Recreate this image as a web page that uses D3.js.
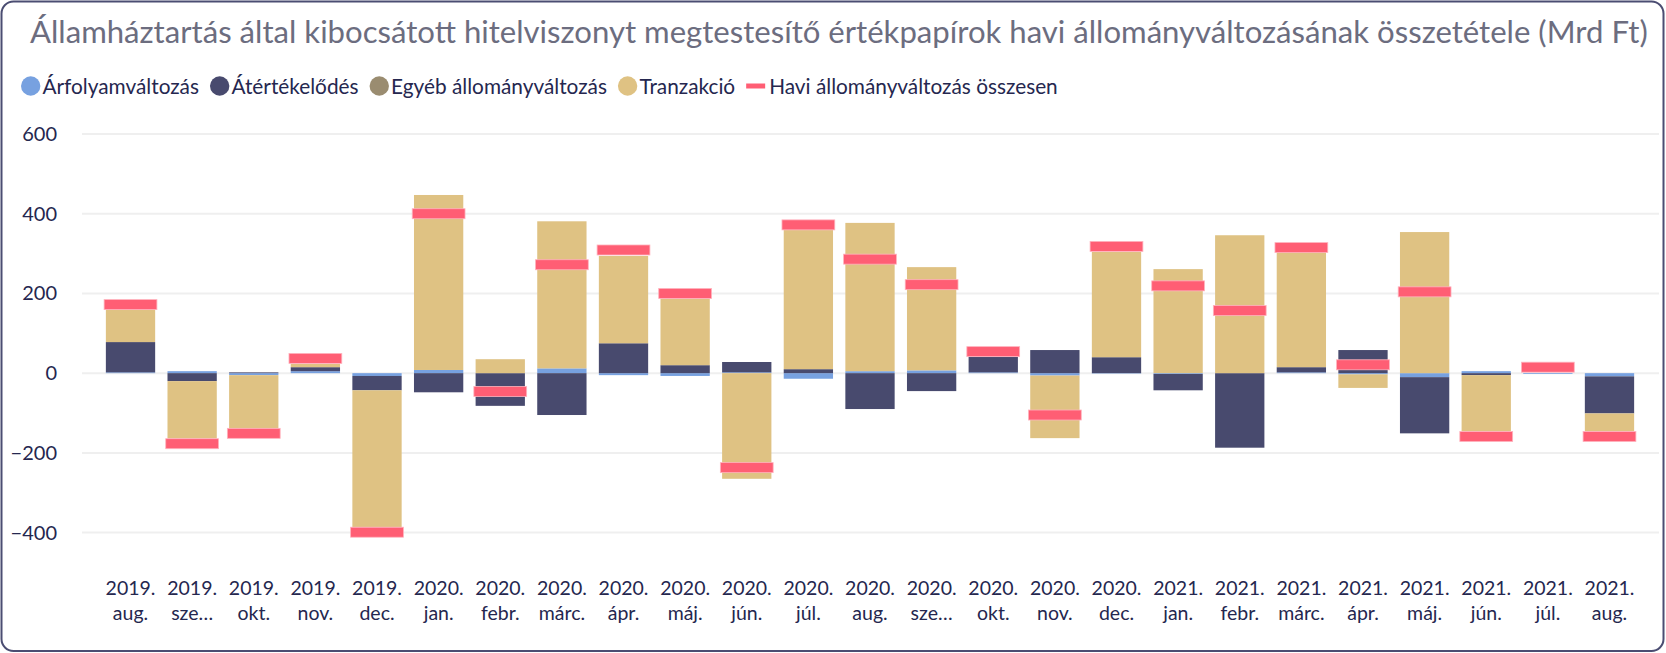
<!DOCTYPE html>
<html>
<head>
<meta charset="utf-8">
<script src="https://cdn.jsdelivr.net/npm/d3@7"></script>
<style>
  html, body { margin: 0; padding: 0; background: #fff; }
  svg { display: block; font-family: Lato, "Noto Sans", sans-serif; }
</style>
</head>
<body>
<svg id="chart" width="1666" height="653"></svg>
<script>
// Monthly composition of stock changes (Mrd Ft)
const months = [
  ["2019.", "aug."], ["2019.", "sze…"], ["2019.", "okt."], ["2019.", "nov."], ["2019.", "dec."],
  ["2020.", "jan."], ["2020.", "febr."], ["2020.", "márc."], ["2020.", "ápr."], ["2020.", "máj."],
  ["2020.", "jún."], ["2020.", "júl."], ["2020.", "aug."], ["2020.", "sze…"], ["2020.", "okt."],
  ["2020.", "nov."], ["2020.", "dec."], ["2021.", "jan."], ["2021.", "febr."], ["2021.", "márc."],
  ["2021.", "ápr."], ["2021.", "máj."], ["2021.", "jún."], ["2021.", "júl."], ["2021.", "aug."]
];
const arfolyamvaltozas = [2, 5, -5, 5, -7, 8, 0, 12, -5, -7, 2, -14, 5, 7, 2, -6, -1, -2, 0, 2, -3, -10, 5, -2, -8];
const atertekelodes    = [76, -20, 2, 10, -36, -48, -82, -105, 75, 20, 26, 10, -90, -45, 39, 58, 40, -41, -187, 13, 58, -141, -5, 0, -93];
const egyeb            = [0, 0, 0, 0, 0, 0, 0, 0, 0, 0, 0, 0, 0, 0, 0, 0, 0, 0, 0, 0, 0, 0, 0, 0, 0];
const tranzakcio       = [82, -144, -134, 8, -343, 439, 35, 369, 219, 167, -265, 350, 372, 259, 0, -157, 264, 261, 346, 289, -34, 354, -141, 0, -45];
const osszesen         = [172, -177, -151, 37, -399, 400, -46, 272, 309, 200, -237, 372, 286, 222, 54, -105, 318, 219, 157, 315, 21, 204, -159, 15, -159];
const yTicks = [-400, -200, 0, 200, 400, 600];

const seriesNames = ["Árfolyamváltozás", "Átértékelődés", "Egyéb állományváltozás", "Tranzakció"];
const seriesColors = ["#77A1E0", "#484A6E", "#9A8C70", "#DFC283"];
const totalName = "Havi állományváltozás összesen";
const totalColor = "#FF5E74";
const textColor = "#25274F";

const rows = months.map((m, i) => ({
  key: i,
  [seriesNames[0]]: arfolyamvaltozas[i],
  [seriesNames[1]]: atertekelodes[i],
  [seriesNames[2]]: egyeb[i],
  [seriesNames[3]]: tranzakcio[i]
}));

const svg = d3.select("#chart");
const W = 1666, H = 653;

// card frame
svg.append("rect")
  .attr("x", 1.5).attr("y", 1.5)
  .attr("width", W - 4).attr("height", H - 3.5)
  .attr("rx", 12).attr("ry", 12)
  .attr("fill", "#fff").attr("stroke", "#4B4D72").attr("stroke-width", 2);

// title, fitted to its line width
const title = svg.append("text")
  .attr("x", 30).attr("y", 43)
  .attr("fill", "#6C6D7F")
  .attr("font-size", 28)
  .text("Államháztartás által kibocsátott hitelviszonyt megtestesítő értékpapírok havi állományváltozásának összetétele (Mrd Ft)");
{
  const w = title.node().getComputedTextLength();
  title.attr("font-size", 28 * 1618 / w);
}

// scales
const x = d3.scaleBand()
  .domain(d3.range(months.length))
  .range([99.7, 1640.3])
  .paddingInner(0.2)
  .paddingOuter(0.1);
const y = d3.scaleLinear().domain([-400, 600]).range([532.6, 134]);

// grid
const gridG = svg.append("g");
gridG.selectAll("line").data(yTicks).join("line")
  .attr("x1", 82).attr("x2", 1659)
  .attr("y1", d => y(d)).attr("y2", d => y(d))
  .attr("stroke", "#EFEFEF").attr("stroke-width", 2);

// y axis labels
const yAxis = d3.axisLeft(y).tickValues(yTicks).tickSize(0).tickPadding(0).tickFormat(d3.format("d"));
const yG = svg.append("g").attr("transform", "translate(57,0)").call(yAxis);
yG.select(".domain").remove();
yG.selectAll("text")
  .attr("font-family", "Lato, 'Noto Sans', sans-serif")
  .attr("font-size", 20).attr("fill", textColor);

// stacked bars
const stack = d3.stack().keys(seriesNames).offset(d3.stackOffsetDiverging);
const stacked = stack(rows);
svg.append("g").selectAll("g").data(stacked).join("g")
  .attr("fill", (d, i) => seriesColors[i])
  .selectAll("rect").data(d => d).join("rect")
  .attr("x", (d, i) => x(i))
  .attr("width", x.bandwidth())
  .attr("y", d => y(Math.max(d[0], d[1])))
  .attr("height", d => Math.abs(y(d[0]) - y(d[1])));

// monthly total markers
const mw = x.bandwidth() + 3.5, mh = 10;
svg.append("g").selectAll("rect").data(osszesen).join("rect")
  .attr("x", (d, i) => x(i) + x.bandwidth() / 2 - mw / 2)
  .attr("y", d => y(d) - mh / 2)
  .attr("width", mw).attr("height", mh)
  .attr("fill", totalColor)
  .attr("stroke", "#FFB3BE").attr("stroke-width", 0.8);

// x axis labels (two lines)
const xG = svg.append("g");
const lbl = xG.selectAll("text").data(months).join("text")
  .attr("text-anchor", "middle")
  .attr("font-size", 19.5).attr("fill", textColor)
  .attr("transform", (d, i) => `translate(${x(i) + x.bandwidth() / 2},0)`);
lbl.append("tspan").attr("x", 0).attr("y", 595).text(d => d[0]);
lbl.append("tspan").attr("x", 0).attr("y", 620).text(d => d[1]);

// legend
const legend = svg.append("g").attr("font-size", 20.8).attr("fill", textColor);
let lx = 21;
const ly = 86;
seriesNames.forEach((name, i) => {
  legend.append("circle").attr("cx", lx + 9.7).attr("cy", ly).attr("r", 9.7).attr("fill", seriesColors[i]);
  const t = legend.append("text").attr("x", lx + 21.5).attr("y", ly + 7.5).text(name);
  lx += 21.5 + t.node().getComputedTextLength() + 11;
});
legend.append("line")
  .attr("x1", lx).attr("x2", lx + 19).attr("y1", ly).attr("y2", ly)
  .attr("stroke", totalColor).attr("stroke-width", 5);
legend.append("text").attr("x", lx + 23).attr("y", ly + 7.5).text(totalName);
</script>
</body>
</html>
